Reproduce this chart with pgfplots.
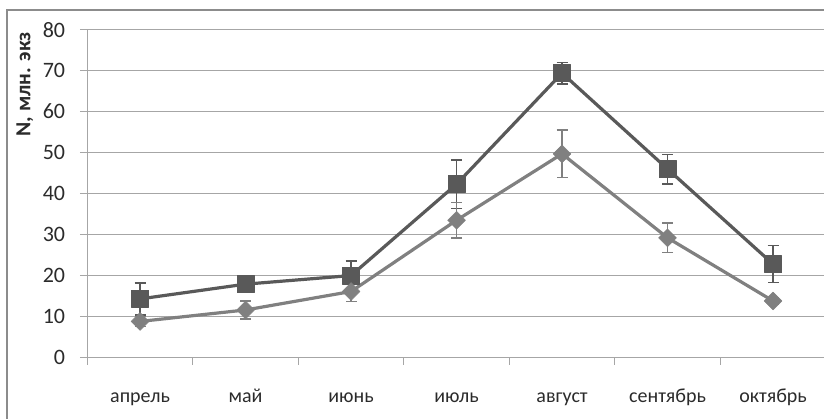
\documentclass[border=0pt]{standalone}
\usepackage{fontspec}
\setmainfont{Carlito}
\usepackage{pgfplots}
\pgfplotsset{compat=1.18}
\definecolor{sq}{HTML}{595959}
\definecolor{dm}{HTML}{808080}
\definecolor{gridc}{HTML}{A6A6A6}
\definecolor{txt}{HTML}{2B2B2B}
\definecolor{framec}{HTML}{8C8C8C}
\begin{document}
\begin{tikzpicture}[x=1pt,y=1pt]
\useasboundingbox (0,0) rectangle (824,419);
\draw[color=framec, line width=1.6pt] (6.7,-5) -- (6.7,409) -- (830,409);
\begin{axis}[
  at={(87.3pt,61.5pt)}, anchor=south west,
  scale only axis, width=738.5pt, height=327.8pt,
  xmin=-0.5, xmax=6.5, ymin=0, ymax=80,
  ytick={0,10,...,80},
  xtick={-0.5,0.5,...,6.5},
  xticklabels={апрель,май,июнь,июль,август,сентябрь,октябрь},
  x tick label as interval,
  axis x line*=bottom, axis y line*=left,
  axis line style={gridc, line width=1.2pt, -},
  tick style={gridc, line width=1.2pt},
  tick align=outside, major tick length=7.5pt,
  ymajorgrids, grid style={gridc, line width=1.2pt},
  /pgf/number format/assume math mode=true,
  yticklabel style={font=\fontsize{22}{24}\selectfont, text=txt, anchor=east, inner sep=0pt, xshift=-14.5pt},
  xticklabel style={font=\fontsize{20}{22}\selectfont, text=txt, anchor=base, inner sep=0pt, yshift=-38pt},
  ylabel={N,\ млн. экз},
  ylabel style={font=\bfseries\fontsize{21.5}{23}\selectfont, text=txt, at={(axis description cs:-0.0844,0.834)}, anchor=center},
  clip=false,
]
\addplot[sq, line width=3.2pt, line join=round, mark=square*, mark size=8.5pt, mark options={solid, line width=0.5pt},
  error bars/.cd, y dir=both, y explicit,
  error bar style={line width=1.5pt, sq},
  error mark options={rotate=90, mark size=5.5pt, line width=1.5pt, sq}]
coordinates {
(0,14.3) +- (0,3.9)
(1,17.9) +- (0,1.2)
(2,20.0) +- (0,3.5)
(3,42.3) +- (0,5.9)
(4,69.4) +- (0,2.6)
(5,46.0) +- (0,3.6)
(6,22.8) +- (0,4.5)
};
\addplot[dm, line width=3.2pt, line join=round, mark=square*, mark size=6.3pt, mark options={solid, rotate=45, line width=0.5pt},
  error bars/.cd, y dir=both, y explicit,
  error bar style={line width=1.5pt, dm},
  error mark options={rotate=90, mark size=5.5pt, line width=1.5pt, dm}]
coordinates {
(0,8.8) +- (0,1.2)
(1,11.6) +- (0,2.2)
(2,16.1) +- (0,2.4)
(3,33.5) +- (0,4.3)
(4,49.7) +- (0,5.8)
(5,29.2) +- (0,3.6)
(6,13.8) +- (0,0.8)
};
\end{axis}
\end{tikzpicture}
\end{document}
